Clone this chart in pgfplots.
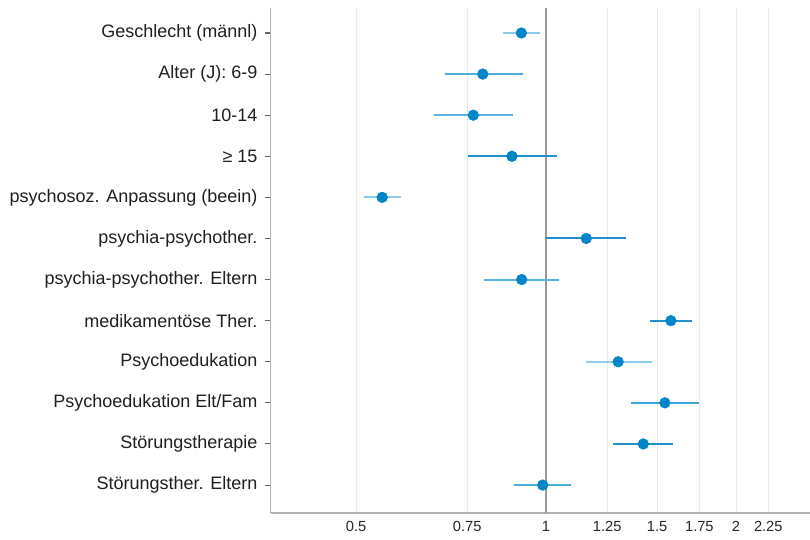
\documentclass[border=0pt]{standalone}
\usepackage{fontspec}
\setmainfont{Liberation Sans}
\usepackage{pgfplots}
\pgfplotsset{compat=1.18}
\definecolor{pt}{HTML}{0086C8}
\definecolor{lLight}{HTML}{8ECBEA}
\definecolor{lMed}{HTML}{4AAEDF}
\definecolor{lDark}{HTML}{2290CF}
\definecolor{lSeven}{HTML}{5AB4E2}
\definecolor{gridc}{HTML}{EBEBEB}
\definecolor{refc}{HTML}{9A9A9A}
\definecolor{axc}{HTML}{B0B0B0}
\begin{document}
\begin{tikzpicture}
\begin{axis}[
  scale only axis,
  width=404.6pt, height=378.75pt,
  xmode=log,
  xmin=0.366, xmax=2.62,
  ymin=0.392, ymax=12.68,
  y dir=reverse,
  separate axis lines,
  axis x line*=bottom, axis y line*=left,
  axis line style={-, draw=axc, line width=1.1pt},
  xtick={0.5,0.75,1.25,1.5,1.75,2,2.25},
  xticklabels={0.5,0.75,1.25,1.5,1.75,2,2.25},
  extra x ticks={1},
  extra x tick labels={1},
  extra x tick style={grid style={draw=refc, line width=1.5pt}},
  xmajorgrids,
  grid style={draw=gridc, line width=0.6pt},
  x tick style={draw=none},
  xticklabel style={font=\fontsize{11}{13}\selectfont, text=black!85, yshift=1pt},
  ytick={1,...,12},
  yticklabels={Geschlecht (männl),Alter (J): 6-9,10-14,{≥ 15},psychosoz. Anpassung (beein),psychia-psychother.,psychia-psychother. Eltern,medikamentöse Ther.,Psychoedukation,Psychoedukation Elt/Fam,Störungstherapie,Störungsther. Eltern},
  yticklabel style={font=\fontsize{13.5}{16}\selectfont, text=black!88, xshift=-2.5pt},
  y tick style={draw=black!60, line width=0.8pt},
  tick align=outside,
  major tick length=3.8pt,
  ytick pos=left,
  clip=false,
]
\addplot[lLight, line width=1.5pt] coordinates {(0.855,1) (0.978,1)};
\addplot[lMed, line width=1.5pt] coordinates {(0.691,2) (0.918,2)};
\addplot[lMed!80!lLight, line width=1.4pt] coordinates {(0.664,3) (0.888,3)};
\addplot[lDark, line width=1.4pt] coordinates {(0.752,4) (1.042,4)};
\addplot[lLight, line width=1.5pt] coordinates {(0.514,5) (0.590,5)};
\addplot[lDark, line width=1.5pt] coordinates {(1.0,6) (1.339,6)};
\addplot[draw=lSeven, line width=1.5pt] coordinates {(0.799,7) (1.050,7)};
\addplot[lDark, line width=1.5pt] coordinates {(1.464,8) (1.703,8)};
\addplot[lLight, line width=1.6pt] coordinates {(1.155,9) (1.470,9)};
\addplot[lMed!70!lDark, line width=1.5pt] coordinates {(1.365,10) (1.748,10)};
\addplot[lDark, line width=1.4pt] coordinates {(1.278,11) (1.587,11)};
\addplot[lMed, line width=1.5pt] coordinates {(0.890,12) (1.096,12)};
\addplot[only marks, mark=*, mark size=4pt, mark options={fill=pt, draw=pt}] coordinates {
(0.914,1) (0.794,2) (0.767,3) (0.883,4) (0.550,5) (1.158,6)
(0.915,7) (1.577,8) (1.301,9) (1.543,10) (1.426,11) (0.988,12)};
\end{axis}
\pgfresetboundingbox
\path[use as bounding box] (-202.9pt,-19.5pt) rectangle (404.6pt,384.75pt);
\end{tikzpicture}
\end{document}
